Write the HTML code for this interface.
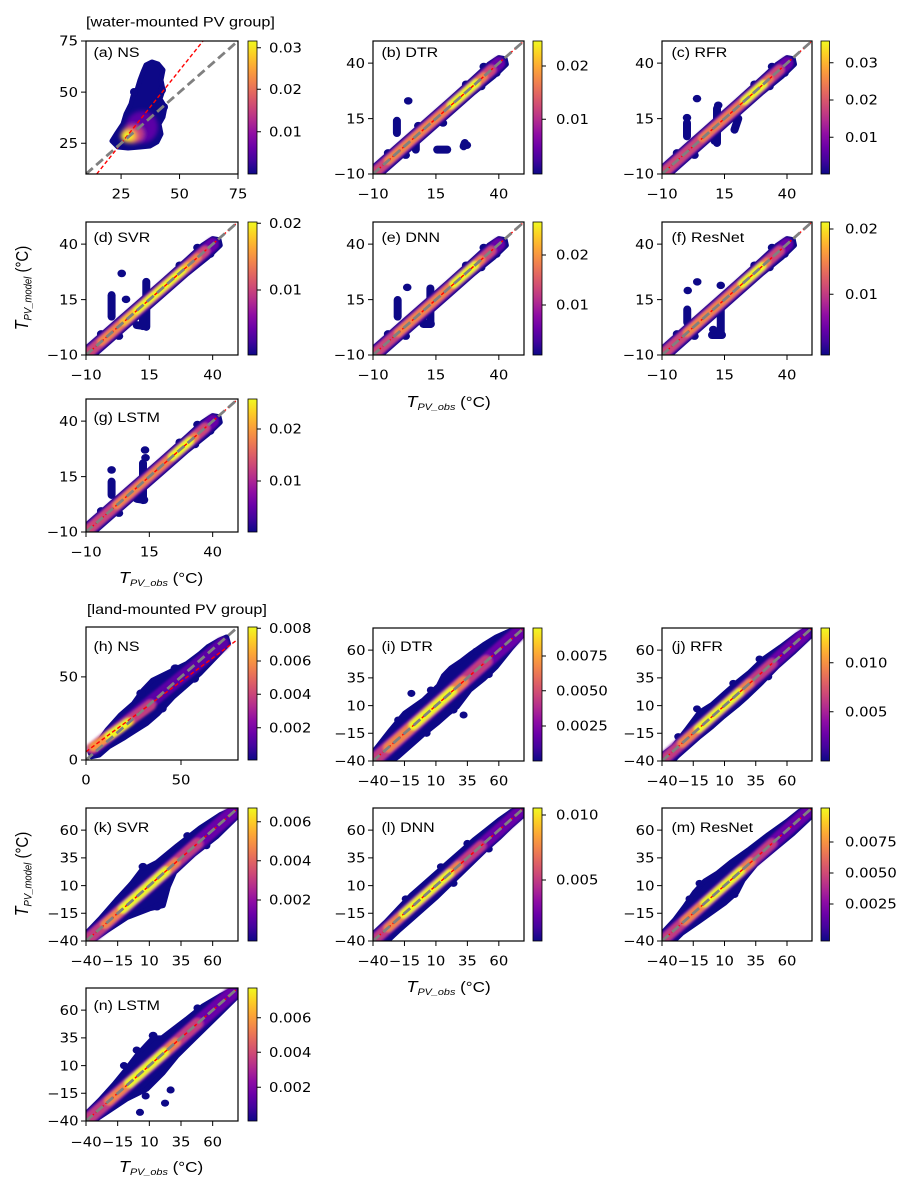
<!DOCTYPE html>
<html><head><meta charset="utf-8"><style>
html,body{margin:0;padding:0;background:#fff;}
svg{display:block}
.tk{font-family:"DejaVu Sans","Liberation Sans",sans-serif;font-size:13px;fill:#000}
.ar{font-family:"Liberation Sans",Arial,sans-serif;fill:#000}
.m{text-anchor:middle}.e{text-anchor:end}
.nv{fill:#0d0887;stroke:#0d0887;stroke-width:5px;stroke-linejoin:round;vector-effect:non-scaling-stroke}
.o{fill:none;stroke:#0d0887;stroke-width:8px;stroke-linecap:round;vector-effect:non-scaling-stroke}
.c{fill:#0d0887}
.L{fill:none;stroke-linecap:round;vector-effect:non-scaling-stroke}
.gd{stroke:#808080;stroke-width:2.8px;stroke-dasharray:9 4.5;vector-effect:non-scaling-stroke}
.rd{stroke:#f00;stroke-width:1.4px;stroke-dasharray:4 2.5;vector-effect:non-scaling-stroke}
.ax{fill:none;stroke:#000;stroke-width:1.2}
.tm{fill:none;stroke:#000;stroke-width:1}
.cb{stroke:#000;stroke-width:0.8}
</style></head><body>
<svg xmlns="http://www.w3.org/2000/svg" width="900" height="1187" viewBox="0 0 900 1187">
<defs>
<linearGradient id="pl" x1="0" y1="1" x2="0" y2="0">
<stop offset="0" stop-color="#0d0887"/><stop offset="0.1" stop-color="#41049d"/><stop offset="0.2" stop-color="#6a00a8"/><stop offset="0.3" stop-color="#8f0da4"/><stop offset="0.4" stop-color="#b12a90"/><stop offset="0.5" stop-color="#cc4778"/><stop offset="0.6" stop-color="#e16462"/><stop offset="0.7" stop-color="#f2844b"/><stop offset="0.8" stop-color="#fca636"/><stop offset="0.9" stop-color="#fcce25"/><stop offset="1" stop-color="#f0f921"/>
</linearGradient>
<filter id="bw" filterUnits="userSpaceOnUse" x="-70" y="-70" width="220" height="220"><feGaussianBlur stdDeviation="0.45"/></filter>
<filter id="bl" filterUnits="userSpaceOnUse" x="-100" y="-100" width="300" height="300"><feGaussianBlur stdDeviation="1.0"/></filter>
<filter id="bh" filterUnits="userSpaceOnUse" x="-50" y="-50" width="200" height="200"><feGaussianBlur stdDeviation="0.7"/></filter>
<filter id="bp" filterUnits="userSpaceOnUse" x="60" y="20" width="220" height="180"><feGaussianBlur stdDeviation="2"/></filter>
<clipPath id="ca"><rect x="86" y="41" width="152" height="133"/></clipPath>
<clipPath id="cb"><rect x="373" y="41" width="151" height="133"/></clipPath>
<clipPath id="cc"><rect x="662" y="41" width="150" height="133"/></clipPath>
<clipPath id="cd"><rect x="86" y="222" width="152" height="133"/></clipPath>
<clipPath id="ce"><rect x="373" y="222" width="151" height="133"/></clipPath>
<clipPath id="cf"><rect x="662" y="222" width="150" height="133"/></clipPath>
<clipPath id="cg"><rect x="86" y="399" width="152" height="133"/></clipPath>
<clipPath id="ch"><rect x="86" y="627" width="152" height="133"/></clipPath>
<clipPath id="ci"><rect x="373" y="628" width="151" height="133"/></clipPath>
<clipPath id="cj"><rect x="662" y="628" width="150" height="133"/></clipPath>
<clipPath id="ck"><rect x="86" y="808" width="152" height="133"/></clipPath>
<clipPath id="cl"><rect x="373" y="808" width="151" height="133"/></clipPath>
<clipPath id="cm"><rect x="662" y="808" width="150" height="133"/></clipPath>
<clipPath id="cn"><rect x="86" y="988" width="152" height="133"/></clipPath>
</defs>

<text class="ar" font-size="14.2" transform="translate(86,26.5) scale(1.14,1)">[water-mounted PV group]</text>
<text class="ar" font-size="14.2" transform="translate(87,614) scale(1.14,1)">[land-mounted PV group]</text>

<!-- ===== (a) NS ===== -->
<g clip-path="url(#ca)">
<path class="nv" d="M112,141 L117,133 L123,124 L126,114 L131,104 L133,96 L137,90 L140,80 L143,72 L146,65 L152,62 L158,64 L163,70 L161,80 L163,90 L160,99 L165,107 L163,117 L159,124 L161,134 L157,142 L150,146 L140,147 L128,148 L118,147 Z"/>
<circle class="c" cx="134" cy="92" r="4"/><circle class="c" cx="164" cy="107" r="4"/><circle class="c" cx="162" cy="90" r="4"/>
<g filter="url(#bp)">
<ellipse cx="142" cy="127" rx="16" ry="16" fill="#5c01a6"/>
<ellipse cx="133" cy="134" rx="11" ry="9.5" fill="#c33d80"/>
<ellipse cx="129" cy="136" rx="8.5" ry="7" fill="#f89540"/>
<ellipse cx="128" cy="136" rx="5.5" ry="4.5" fill="#f0f921"/>
</g>
<line class="rd" x1="96.7" y1="174" x2="203" y2="41"/>
<line class="gd" x1="86" y1="174" x2="238" y2="41"/>
</g>
<rect class="ax" x="86" y="41" width="152" height="133"/>
<path class="tm" d="M121.08,174v5M179.54,174v5M238,174v5M86,143.31h-5M86,92.15h-5M86,41h-5"/>
<text class="tk m" transform="translate(121.08,198.5) scale(1.14,1)">25</text>
<text class="tk m" transform="translate(179.54,198.5) scale(1.14,1)">50</text>
<text class="tk m" transform="translate(238,198.5) scale(1.14,1)">75</text>
<text class="tk e" transform="translate(78,148) scale(1.14,1)">25</text>
<text class="tk e" transform="translate(78,96.9) scale(1.14,1)">50</text>
<text class="tk e" transform="translate(78,45.7) scale(1.14,1)">75</text>
<text class="ar" font-size="14" transform="translate(93.5,57) scale(1.14,1)">(a) NS</text>
<rect class="cb" x="248" y="41" width="9" height="133" fill="url(#pl)"/>
<path class="tm" d="M257,47.7h4M257,89.3h4M257,131.7h4"/>
<text class="tk" transform="translate(269,52.4) scale(1.14,1)">0.03</text>
<text class="tk" transform="translate(269,94) scale(1.14,1)">0.02</text>
<text class="tk" transform="translate(269,136.4) scale(1.14,1)">0.01</text>

<!-- ===== (b) DTR ===== -->
<g clip-path="url(#cb)"><g transform="translate(373,174) scale(2.5167,-2.2167) translate(10,10)">
<polygon class="nv" points="-13,-10 0,3 10,13 20,23 30,33.2 36,39.5 40,42.5 42.5,42 43,39.5 38,34 30,26.7 20,16.7 10,6.7 0,-3.3 -13,-16.3"/>
<circle class="c" cx="-4" cy="-0.5" r="1.7"/><circle class="c" cx="8" cy="11.8" r="1.7"/><circle class="c" cx="27" cy="30.5" r="1.7"/><circle class="c" cx="34" cy="38.5" r="1.7"/><circle class="c" cx="3" cy="-1.5" r="1.7"/><circle class="c" cx="33" cy="29.5" r="1.7"/><circle class="c" cx="39" cy="35.5" r="1.7"/>
<circle class="c" cx="4" cy="23" r="1.7"/>
<line class="o" x1="-0.5" y1="8.5" x2="-0.5" y2="14"/>
<line class="o" x1="7" y1="1" x2="7" y2="8.5"/>
<circle class="c" cx="8.5" cy="7" r="1.7"/>
<line class="o" x1="15.5" y1="1" x2="19.5" y2="1"/>
<line class="o" x1="26" y1="2.5" x2="26.5" y2="4"/>
<circle class="c" cx="27.3" cy="3" r="1.7"/>
<circle class="c" cx="17.8" cy="13" r="1.7"/>
<g filter="url(#bw)">
<line class="L" x1="-11" y1="-11" x2="40" y2="40" stroke="#6a00a8" stroke-width="13"/>
<line class="L" x1="-9" y1="-9" x2="37" y2="37" stroke="#cc4778" stroke-width="10"/>
<line class="L" x1="-4" y1="-4" x2="34" y2="34" stroke="#f2844b" stroke-width="8"/>
<line class="L" x1="21" y1="21" x2="31" y2="31" stroke="#f0f921" stroke-width="8"/>
</g>
<line class="rd" x1="-10" y1="-10" x2="50" y2="50"/>
<line class="gd" x1="-10" y1="-10" x2="50" y2="50"/>
</g></g>
<rect class="ax" x="373" y="41" width="151" height="133"/>
<path class="tm" d="M373,174v5M435.92,174v5M498.83,174v5M373,174h-5M373,118.58h-5M373,63.17h-5"/>
<text class="tk m" transform="translate(373,198.5) scale(1.14,1)">−10</text>
<text class="tk m" transform="translate(435.92,198.5) scale(1.14,1)">15</text>
<text class="tk m" transform="translate(498.83,198.5) scale(1.14,1)">40</text>
<text class="tk e" transform="translate(365,178.7) scale(1.14,1)">−10</text>
<text class="tk e" transform="translate(365,123.3) scale(1.14,1)">15</text>
<text class="tk e" transform="translate(365,67.9) scale(1.14,1)">40</text>
<text class="ar" font-size="14" transform="translate(381.5,57) scale(1.14,1)">(b) DTR</text>
<rect class="cb" x="533" y="41" width="9" height="133" fill="url(#pl)"/>
<path class="tm" d="M542,66h4M542,119.3h4"/>
<text class="tk" transform="translate(556,70.7) scale(1.14,1)">0.02</text>
<text class="tk" transform="translate(556,124) scale(1.14,1)">0.01</text>

<!-- ===== (c) RFR ===== -->
<g clip-path="url(#cc)"><g transform="translate(662,174) scale(2.5,-2.2167) translate(10,10)">
<polygon class="nv" points="-13,-10 0,3 10,13 20,23 30,33.2 36,39.5 40,42.5 42.5,42 43,39.5 38,34 30,26.7 20,16.7 10,6.7 0,-3.3 -13,-16.3"/>
<circle class="c" cx="-4" cy="-0.5" r="1.7"/><circle class="c" cx="27" cy="30.5" r="1.7"/><circle class="c" cx="34" cy="38.5" r="1.7"/><circle class="c" cx="3" cy="-1.5" r="1.7"/><circle class="c" cx="33" cy="29.5" r="1.7"/><circle class="c" cx="39" cy="35.5" r="1.7"/>
<circle class="c" cx="4" cy="24" r="1.7"/>
<circle class="c" cx="0" cy="15.4" r="1.7"/>
<line class="o" x1="0" y1="7" x2="0" y2="13"/>
<circle class="c" cx="12.5" cy="21" r="1.7"/>
<line class="o" x1="12" y1="4" x2="12" y2="19.5"/>
<line class="o" x1="11" y1="5" x2="11" y2="9"/>
<line class="o" x1="19" y1="10" x2="20.5" y2="15"/>
<g filter="url(#bw)">
<line class="L" x1="-11" y1="-11" x2="40" y2="40" stroke="#6a00a8" stroke-width="13"/>
<line class="L" x1="-9" y1="-9" x2="37" y2="37" stroke="#cc4778" stroke-width="10"/>
<line class="L" x1="6" y1="6" x2="33" y2="33" stroke="#ef7b51" stroke-width="8"/>
<line class="L" x1="23" y1="23" x2="30.5" y2="30.5" stroke="#f0f921" stroke-width="8"/>
</g>
<line class="rd" x1="-10" y1="-10" x2="50" y2="50"/>
<line class="gd" x1="-10" y1="-10" x2="50" y2="50"/>
</g></g>
<rect class="ax" x="662" y="41" width="150" height="133"/>
<path class="tm" d="M662,174v5M724.5,174v5M787,174v5M662,174h-5M662,118.58h-5M662,63.17h-5"/>
<text class="tk m" transform="translate(662,198.5) scale(1.14,1)">−10</text>
<text class="tk m" transform="translate(724.5,198.5) scale(1.14,1)">15</text>
<text class="tk m" transform="translate(787,198.5) scale(1.14,1)">40</text>
<text class="tk e" transform="translate(654,178.7) scale(1.14,1)">−10</text>
<text class="tk e" transform="translate(654,123.3) scale(1.14,1)">15</text>
<text class="tk e" transform="translate(654,67.9) scale(1.14,1)">40</text>
<text class="ar" font-size="14" transform="translate(671.5,57) scale(1.14,1)">(c) RFR</text>
<rect class="cb" x="821" y="41" width="8.5" height="133" fill="url(#pl)"/>
<path class="tm" d="M829.5,62.7h4M829.5,100h4M829.5,137.3h4"/>
<text class="tk" transform="translate(845,67.4) scale(1.14,1)">0.03</text>
<text class="tk" transform="translate(845,104.7) scale(1.14,1)">0.02</text>
<text class="tk" transform="translate(845,142) scale(1.14,1)">0.01</text>

<!-- ===== (d) SVR ===== -->
<g clip-path="url(#cd)"><g transform="translate(86,355) scale(2.5333,-2.2167) translate(10,10)">
<polygon class="nv" points="-13,-10 0,3 10,13 20,23 30,33.2 36,39.5 40,42.5 42.5,42 43,39.5 38,34 30,26.7 20,16.7 10,6.7 0,-3.3 -13,-16.3"/>
<circle class="c" cx="-4" cy="-0.5" r="1.7"/><circle class="c" cx="27" cy="30.5" r="1.7"/><circle class="c" cx="34" cy="38.5" r="1.7"/><circle class="c" cx="3" cy="-1.5" r="1.7"/><circle class="c" cx="39" cy="35.5" r="1.7"/>
<circle class="c" cx="4.1" cy="26.8" r="1.7"/>
<line class="o" x1="0.1" y1="7.3" x2="0.1" y2="17"/>
<circle class="c" cx="5.8" cy="15.1" r="1.7"/>
<line class="o" x1="13.8" y1="2.7" x2="13.8" y2="23"/>
<line class="o" x1="10" y1="3.5" x2="13.5" y2="3"/>
<line class="o" x1="12.5" y1="3" x2="12.5" y2="9"/>
<g filter="url(#bw)">
<line class="L" x1="-11" y1="-11" x2="40" y2="40" stroke="#6a00a8" stroke-width="13"/>
<line class="L" x1="-9" y1="-9" x2="37" y2="37" stroke="#cc4778" stroke-width="10"/>
<line class="L" x1="-4" y1="-4" x2="34" y2="34" stroke="#f2844b" stroke-width="8"/>
<line class="L" x1="5" y1="5" x2="30" y2="30" stroke="#fbbf2f" stroke-width="8"/>
<line class="L" x1="10" y1="10" x2="28" y2="28" stroke="#f0f921" stroke-width="7"/>
</g>
<line class="rd" x1="-10" y1="-10" x2="50" y2="50"/>
<line class="gd" x1="-10" y1="-10" x2="50" y2="50"/>
</g></g>
<rect class="ax" x="86" y="222" width="152" height="133"/>
<path class="tm" d="M86,355v5M149.33,355v5M212.67,355v5M86,355h-5M86,299.58h-5M86,244.17h-5"/>
<text class="tk m" transform="translate(86,379.5) scale(1.14,1)">−10</text>
<text class="tk m" transform="translate(149.33,379.5) scale(1.14,1)">15</text>
<text class="tk m" transform="translate(212.67,379.5) scale(1.14,1)">40</text>
<text class="tk e" transform="translate(78,359.7) scale(1.14,1)">−10</text>
<text class="tk e" transform="translate(78,304.3) scale(1.14,1)">15</text>
<text class="tk e" transform="translate(78,248.9) scale(1.14,1)">40</text>
<text class="ar" font-size="14" transform="translate(93.5,242) scale(1.14,1)">(d) SVR</text>
<rect class="cb" x="248" y="222" width="9" height="133" fill="url(#pl)"/>
<path class="tm" d="M257,223.3h4M257,290h4"/>
<text class="tk" transform="translate(269,228) scale(1.14,1)">0.02</text>
<text class="tk" transform="translate(269,294.7) scale(1.14,1)">0.01</text>

<!-- ===== (e) DNN ===== -->
<g clip-path="url(#ce)"><g transform="translate(373,355) scale(2.5167,-2.2167) translate(10,10)">
<polygon class="nv" points="-13,-10 0,3 10,13 20,23 30,33.2 36,39.5 40,42.5 42.5,42 43,39.5 38,34 30,26.7 20,16.7 10,6.7 0,-3.3 -13,-16.3"/>
<circle class="c" cx="-4" cy="-0.5" r="1.7"/><circle class="c" cx="27" cy="30.5" r="1.7"/><circle class="c" cx="34" cy="38.5" r="1.7"/><circle class="c" cx="3" cy="-1.5" r="1.7"/><circle class="c" cx="33" cy="29.5" r="1.7"/><circle class="c" cx="39" cy="35.5" r="1.7"/>
<circle class="c" cx="3.6" cy="20.5" r="1.7"/>
<line class="o" x1="-0.2" y1="7.3" x2="-0.2" y2="14.8"/>
<line class="o" x1="12.8" y1="4" x2="12.8" y2="20"/>
<line class="o" x1="10" y1="4" x2="13" y2="4"/>
<circle class="c" cx="9.5" cy="6" r="1.7"/>
<g filter="url(#bw)">
<line class="L" x1="-11" y1="-11" x2="40" y2="40" stroke="#6a00a8" stroke-width="13"/>
<line class="L" x1="-9" y1="-9" x2="37" y2="37" stroke="#cc4778" stroke-width="10"/>
<line class="L" x1="0" y1="0" x2="33" y2="33" stroke="#f2844b" stroke-width="8"/>
<line class="L" x1="22" y1="22" x2="30.5" y2="30.5" stroke="#f0f921" stroke-width="8"/>
</g>
<line class="rd" x1="-10" y1="-10" x2="50" y2="50"/>
<line class="gd" x1="-10" y1="-10" x2="50" y2="50"/>
</g></g>
<rect class="ax" x="373" y="222" width="151" height="133"/>
<path class="tm" d="M373,355v5M435.92,355v5M498.83,355v5M373,355h-5M373,299.58h-5M373,244.17h-5"/>
<text class="tk m" transform="translate(373,379.5) scale(1.14,1)">−10</text>
<text class="tk m" transform="translate(435.92,379.5) scale(1.14,1)">15</text>
<text class="tk m" transform="translate(498.83,379.5) scale(1.14,1)">40</text>
<text class="tk e" transform="translate(365,359.7) scale(1.14,1)">−10</text>
<text class="tk e" transform="translate(365,304.3) scale(1.14,1)">15</text>
<text class="tk e" transform="translate(365,248.9) scale(1.14,1)">40</text>
<text class="ar" font-size="14" transform="translate(381.5,242) scale(1.14,1)">(e) DNN</text>
<rect class="cb" x="533" y="222" width="9" height="133" fill="url(#pl)"/>
<path class="tm" d="M542,255h4M542,305h4"/>
<text class="tk" transform="translate(556,259.7) scale(1.14,1)">0.02</text>
<text class="tk" transform="translate(556,309.7) scale(1.14,1)">0.01</text>

<!-- ===== (f) ResNet ===== -->
<g clip-path="url(#cf)"><g transform="translate(662,355) scale(2.5,-2.2167) translate(10,10)">
<polygon class="nv" points="-13,-10 0,3 10,13 20,23 30,33.2 36,39.5 40,42.5 42.5,42 43,39.5 38,34 30,26.7 20,16.7 10,6.7 0,-3.3 -13,-16.3"/>
<circle class="c" cx="-4" cy="-0.5" r="1.7"/><circle class="c" cx="27" cy="30.5" r="1.7"/><circle class="c" cx="34" cy="38.5" r="1.7"/><circle class="c" cx="3" cy="-1.5" r="1.7"/><circle class="c" cx="33" cy="29.5" r="1.7"/><circle class="c" cx="39" cy="35.5" r="1.7"/>
<circle class="c" cx="0.3" cy="19.1" r="1.7"/>
<circle class="c" cx="4.1" cy="23" r="1.7"/>
<line class="o" x1="0.1" y1="4.7" x2="0.1" y2="10.5"/>
<line class="o" x1="10" y1="-1" x2="14" y2="-1"/>
<line class="o" x1="13.5" y1="-1" x2="13.5" y2="11"/>
<circle class="c" cx="10.5" cy="1.5" r="1.7"/>
<circle class="c" cx="13.5" cy="21.4" r="1.7"/>
<g filter="url(#bw)">
<line class="L" x1="-11" y1="-11" x2="40" y2="40" stroke="#6a00a8" stroke-width="13"/>
<line class="L" x1="-9" y1="-9" x2="37" y2="37" stroke="#cc4778" stroke-width="10"/>
<line class="L" x1="0" y1="0" x2="32" y2="32" stroke="#f2844b" stroke-width="8"/>
<line class="L" x1="22" y1="22" x2="30" y2="30" stroke="#f0f921" stroke-width="8"/>
</g>
<line class="rd" x1="-10" y1="-10" x2="50" y2="50"/>
<line class="gd" x1="-10" y1="-10" x2="50" y2="50"/>
</g></g>
<rect class="ax" x="662" y="222" width="150" height="133"/>
<path class="tm" d="M662,355v5M724.5,355v5M787,355v5M662,355h-5M662,299.58h-5M662,244.17h-5"/>
<text class="tk m" transform="translate(662,379.5) scale(1.14,1)">−10</text>
<text class="tk m" transform="translate(724.5,379.5) scale(1.14,1)">15</text>
<text class="tk m" transform="translate(787,379.5) scale(1.14,1)">40</text>
<text class="tk e" transform="translate(654,359.7) scale(1.14,1)">−10</text>
<text class="tk e" transform="translate(654,304.3) scale(1.14,1)">15</text>
<text class="tk e" transform="translate(654,248.9) scale(1.14,1)">40</text>
<text class="ar" font-size="14" transform="translate(671.5,242) scale(1.14,1)">(f) ResNet</text>
<rect class="cb" x="821" y="222" width="8.5" height="133" fill="url(#pl)"/>
<path class="tm" d="M829.5,229h4M829.5,294.3h4"/>
<text class="tk" transform="translate(845,233.7) scale(1.14,1)">0.02</text>
<text class="tk" transform="translate(845,299) scale(1.14,1)">0.01</text>

<!-- ===== (g) LSTM ===== -->
<g clip-path="url(#cg)"><g transform="translate(86,532) scale(2.5333,-2.2167) translate(10,10)">
<polygon class="nv" points="-13,-10 0,3 10,13 20,23 30,33.2 36,39.5 40,42.5 42.5,42 43,39.5 38,34 30,26.7 20,16.7 10,6.7 0,-3.3 -13,-16.3"/>
<circle class="c" cx="-4" cy="-0.5" r="1.7"/><circle class="c" cx="27" cy="30.5" r="1.7"/><circle class="c" cx="34" cy="38.5" r="1.7"/><circle class="c" cx="3" cy="-1.5" r="1.7"/><circle class="c" cx="33" cy="29.5" r="1.7"/><circle class="c" cx="39" cy="35.5" r="1.7"/>
<circle class="c" cx="0.1" cy="18" r="1.7"/>
<line class="o" x1="0.1" y1="6.7" x2="0.1" y2="12.7"/>
<circle class="c" cx="13.3" cy="27" r="1.7"/>
<line class="o" x1="12.5" y1="4.4" x2="12.5" y2="21"/>
<line class="o" x1="10" y1="5" x2="13" y2="4.5"/>
<circle class="c" cx="13.5" cy="23.5" r="1.7"/>
<g filter="url(#bw)">
<line class="L" x1="-11" y1="-11" x2="40" y2="40" stroke="#6a00a8" stroke-width="13"/>
<line class="L" x1="-9" y1="-9" x2="37" y2="37" stroke="#cc4778" stroke-width="10"/>
<line class="L" x1="2" y1="2" x2="33" y2="33" stroke="#f2844b" stroke-width="8"/>
<line class="L" x1="24" y1="24" x2="31" y2="31" stroke="#f0f921" stroke-width="8"/>
</g>
<line class="rd" x1="-10" y1="-10" x2="50" y2="50"/>
<line class="gd" x1="-10" y1="-10" x2="50" y2="50"/>
</g></g>
<rect class="ax" x="86" y="399" width="152" height="133"/>
<path class="tm" d="M86,532v5M149.33,532v5M212.67,532v5M86,532h-5M86,476.58h-5M86,421.17h-5"/>
<text class="tk m" transform="translate(86,556.5) scale(1.14,1)">−10</text>
<text class="tk m" transform="translate(149.33,556.5) scale(1.14,1)">15</text>
<text class="tk m" transform="translate(212.67,556.5) scale(1.14,1)">40</text>
<text class="tk e" transform="translate(78,536.7) scale(1.14,1)">−10</text>
<text class="tk e" transform="translate(78,481.3) scale(1.14,1)">15</text>
<text class="tk e" transform="translate(78,425.9) scale(1.14,1)">40</text>
<text class="ar" font-size="14" transform="translate(93.5,422) scale(1.14,1)">(g) LSTM</text>
<rect class="cb" x="248" y="399" width="9" height="133" fill="url(#pl)"/>
<path class="tm" d="M257,429h4M257,481h4"/>
<text class="tk" transform="translate(269,433.7) scale(1.14,1)">0.02</text>
<text class="tk" transform="translate(269,485.7) scale(1.14,1)">0.01</text>

<!-- axis labels water -->
<text class="ar m" transform="translate(28,288) scale(1.14,1) rotate(-90)"><tspan font-style="italic" font-size="16">T</tspan><tspan font-style="italic" font-size="9.5" dy="3">PV_model</tspan><tspan font-size="15" dy="-3"> (°C)</tspan></text>
<text class="ar m" transform="translate(448.5,407) scale(1.14,1)"><tspan font-style="italic" font-size="16">T</tspan><tspan font-style="italic" font-size="9.5" dy="3">PV_obs</tspan><tspan font-size="15" dy="-3"> (°C)</tspan></text>
<text class="ar m" transform="translate(161,583) scale(1.14,1)"><tspan font-style="italic" font-size="16">T</tspan><tspan font-style="italic" font-size="9.5" dy="3">PV_obs</tspan><tspan font-size="15" dy="-3"> (°C)</tspan></text>

<!-- ===== (h) NS land ===== -->
<g clip-path="url(#ch)"><g transform="translate(86,760) scale(1.9,-1.6625)">
<polygon class="nv" points="2,5 6,10 11,18 18,27 25,34 30,42 35,48 44,53 53,58 60,64 64,68 70,72 74,74 75,70 70,64 60,52 53,45 46,38 38,28 32,22 25,17 19.6,13 12,8 7,3 3,2"/>
<circle class="c" cx="29" cy="40" r="2.5"/><circle class="c" cx="47" cy="55" r="2.5"/><circle class="c" cx="40" cy="31" r="2.5"/><circle class="c" cx="57" cy="49" r="2.5"/>
<g filter="url(#bh)">
<line class="L" x1="4" y1="7" x2="72" y2="70" stroke="#5c01a6" stroke-width="13"/>
<line class="L" x1="3" y1="7" x2="34" y2="33" stroke="#c33d80" stroke-width="11"/>
<line class="L" x1="4" y1="8" x2="23" y2="23" stroke="#f89540" stroke-width="9"/>
<line class="L" x1="12" y1="14.5" x2="22" y2="22.5" stroke="#f0f921" stroke-width="8"/>
</g>
<line class="rd" x1="0" y1="5" x2="80" y2="72.6"/>
<line class="gd" x1="0" y1="0" x2="80" y2="80"/>
</g></g>
<rect class="ax" x="86" y="627" width="152" height="133"/>
<path class="tm" d="M86,760v5M181,760v5M86,760h-5M86,676.9h-5"/>
<text class="tk m" transform="translate(86,784.5) scale(1.14,1)">0</text>
<text class="tk m" transform="translate(181,784.5) scale(1.14,1)">50</text>
<text class="tk e" transform="translate(78,764.7) scale(1.14,1)">0</text>
<text class="tk e" transform="translate(78,681.6) scale(1.14,1)">50</text>
<text class="ar" font-size="14" transform="translate(93.5,651) scale(1.14,1)">(h) NS</text>
<rect class="cb" x="248" y="627" width="9" height="133" fill="url(#pl)"/>
<path class="tm" d="M257,628.3h4M257,661h4M257,694.3h4M257,727.7h4"/>
<text class="tk" transform="translate(269,633) scale(1.14,1)">0.008</text>
<text class="tk" transform="translate(269,665.7) scale(1.14,1)">0.006</text>
<text class="tk" transform="translate(269,699) scale(1.14,1)">0.004</text>
<text class="tk" transform="translate(269,732.4) scale(1.14,1)">0.002</text>

<!-- ===== (i) DTR land ===== -->
<g clip-path="url(#ci)"><g transform="translate(373,761) scale(1.2583,-1.1083) translate(40,40)">
<polygon class="nv" points="-44,-38 -26,-12 -15,3 0,15 12,28 16,37 22,44 30,50 38,57 48,65 58,72 68,77 77,80 80,75 70,62 58,45 48,34 37,24 27,9 20,3 11,-6 0,-16 -5,-21 -20,-36 -32,-46"/>
<circle class="c" cx="-9.5" cy="21" r="3.2"/>
<circle class="c" cx="2.6" cy="-15" r="3.2"/>
<circle class="c" cx="32" cy="1.5" r="3.2"/>
<circle class="c" cx="-20" cy="-3" r="3.2"/><circle class="c" cx="6" cy="24" r="3.2"/><circle class="c" cx="42" cy="59" r="3.2"/><circle class="c" cx="52" cy="38" r="3.2"/><circle class="c" cx="24" cy="6" r="3.2"/>
<g filter="url(#bl)">
<line class="L" x1="-42" y1="-42" x2="76" y2="76" stroke="#6a00a8" stroke-width="15"/>
<line class="L" x1="-38" y1="-38" x2="50" y2="50" stroke="#c33d80" stroke-width="12"/>
<line class="L" x1="-28" y1="-28" x2="32" y2="32" stroke="#f2844b" stroke-width="10"/>
<line class="L" x1="-8" y1="-8" x2="23" y2="23" stroke="#f0f921" stroke-width="9"/>
</g>
<line class="rd" x1="-40" y1="-40" x2="80" y2="80"/>
<line class="gd" x1="-40" y1="-40" x2="80" y2="80"/>
</g></g>
<rect class="ax" x="373" y="628" width="151" height="133"/>
<path class="tm" d="M373,761v5M404.46,761v5M435.92,761v5M467.38,761v5M498.83,761v5M373,761h-5M373,733.29h-5M373,705.58h-5M373,677.87h-5M373,650.17h-5"/>
<text class="tk m" transform="translate(373,785.5) scale(1.14,1)">−40</text>
<text class="tk m" transform="translate(404.46,785.5) scale(1.14,1)">−15</text>
<text class="tk m" transform="translate(435.92,785.5) scale(1.14,1)">10</text>
<text class="tk m" transform="translate(467.38,785.5) scale(1.14,1)">35</text>
<text class="tk m" transform="translate(498.83,785.5) scale(1.14,1)">60</text>
<text class="tk e" transform="translate(365.5,765.7) scale(1.14,1)">−40</text>
<text class="tk e" transform="translate(365.5,738) scale(1.14,1)">−15</text>
<text class="tk e" transform="translate(365.5,710.3) scale(1.14,1)">10</text>
<text class="tk e" transform="translate(365.5,682.6) scale(1.14,1)">35</text>
<text class="tk e" transform="translate(365.5,654.9) scale(1.14,1)">60</text>
<text class="ar" font-size="14" transform="translate(381.5,651) scale(1.14,1)">(i) DTR</text>
<rect class="cb" x="533" y="628" width="9" height="133" fill="url(#pl)"/>
<path class="tm" d="M542,656h4M542,690.7h4M542,726h4"/>
<text class="tk" transform="translate(556,660.7) scale(1.14,1)">0.0075</text>
<text class="tk" transform="translate(556,695.4) scale(1.14,1)">0.0050</text>
<text class="tk" transform="translate(556,730.7) scale(1.14,1)">0.0025</text>

<!-- ===== (j) RFR land ===== -->
<g clip-path="url(#cj)"><g transform="translate(662,761) scale(1.25,-1.1083) translate(40,40)">
<polygon class="nv" points="-44,-38 -31,-27 -20,-11 -10,4 0,11 10,21 20,31 30,40 41,52 55,63 68,74 77,80 80,74 65,58 52,45 40,31 28,18 20,10 9,0 0,-9 -10,-18 -28,-36 -36,-46"/>
<circle class="c" cx="-12" cy="7" r="3.2"/><circle class="c" cx="17" cy="30" r="3.2"/><circle class="c" cx="38" cy="52" r="3.2"/><circle class="c" cx="45" cy="36" r="3.2"/><circle class="c" cx="-27" cy="-18" r="3.2"/>
<g filter="url(#bl)">
<line class="L" x1="-42" y1="-42" x2="74" y2="74" stroke="#6a00a8" stroke-width="13"/>
<line class="L" x1="-36" y1="-36" x2="48" y2="48" stroke="#c33d80" stroke-width="10"/>
<line class="L" x1="-24" y1="-24" x2="30" y2="30" stroke="#f2844b" stroke-width="9"/>
<line class="L" x1="-11" y1="-11" x2="22" y2="22" stroke="#f0f921" stroke-width="8"/>
</g>
<line class="rd" x1="-40" y1="-40" x2="80" y2="80"/>
<line class="gd" x1="-40" y1="-40" x2="80" y2="80"/>
</g></g>
<rect class="ax" x="662" y="628" width="150" height="133"/>
<path class="tm" d="M662,761v5M693.25,761v5M724.5,761v5M755.75,761v5M787,761v5M662,761h-5M662,733.29h-5M662,705.58h-5M662,677.87h-5M662,650.17h-5"/>
<text class="tk m" transform="translate(662,785.5) scale(1.14,1)">−40</text>
<text class="tk m" transform="translate(693.25,785.5) scale(1.14,1)">−15</text>
<text class="tk m" transform="translate(724.5,785.5) scale(1.14,1)">10</text>
<text class="tk m" transform="translate(755.75,785.5) scale(1.14,1)">35</text>
<text class="tk m" transform="translate(787,785.5) scale(1.14,1)">60</text>
<text class="tk e" transform="translate(654.5,765.7) scale(1.14,1)">−40</text>
<text class="tk e" transform="translate(654.5,738) scale(1.14,1)">−15</text>
<text class="tk e" transform="translate(654.5,710.3) scale(1.14,1)">10</text>
<text class="tk e" transform="translate(654.5,682.6) scale(1.14,1)">35</text>
<text class="tk e" transform="translate(654.5,654.9) scale(1.14,1)">60</text>
<text class="ar" font-size="14" transform="translate(671.5,651) scale(1.14,1)">(j) RFR</text>
<rect class="cb" x="821" y="628" width="8.5" height="133" fill="url(#pl)"/>
<path class="tm" d="M829.5,662.7h4M829.5,711.7h4"/>
<text class="tk" transform="translate(845,667.4) scale(1.14,1)">0.010</text>
<text class="tk" transform="translate(845,716.4) scale(1.14,1)">0.005</text>

<!-- ===== (k) SVR land ===== -->
<g clip-path="url(#ck)"><g transform="translate(86,941) scale(1.2667,-1.1083) translate(40,40)">
<polygon class="nv" points="-44,-38 -29,-20 -16,-3 -4,12 4,24 16,31 32,46 50,62 66,74 78,80 80,73 63,54 45,38 30,22 25,9 21,-8 10,-11 -8,-19 -24,-31 -34,-39 -40,-46"/>
<circle class="c" cx="5" cy="27" r="3.5"/><circle class="c" cx="16" cy="-9" r="3.5"/><circle class="c" cx="40" cy="55" r="3.2"/><circle class="c" cx="55" cy="46" r="3.2"/>
<g filter="url(#bl)">
<line class="L" x1="-42" y1="-42" x2="75" y2="75" stroke="#6a00a8" stroke-width="14"/>
<line class="L" x1="-36" y1="-36" x2="48" y2="48" stroke="#c33d80" stroke-width="11"/>
<line class="L" x1="-25" y1="-25" x2="31" y2="31" stroke="#f2844b" stroke-width="9"/>
<line class="L" x1="-11" y1="-11" x2="23" y2="23" stroke="#f0f921" stroke-width="9"/>
</g>
<line class="rd" x1="-40" y1="-40" x2="80" y2="80"/>
<line class="gd" x1="-40" y1="-40" x2="80" y2="80"/>
</g></g>
<rect class="ax" x="86" y="808" width="152" height="133"/>
<path class="tm" d="M86,941v5M117.67,941v5M149.33,941v5M181,941v5M212.67,941v5M86,941h-5M86,913.29h-5M86,885.58h-5M86,857.87h-5M86,830.17h-5"/>
<text class="tk m" transform="translate(86,965.5) scale(1.14,1)">−40</text>
<text class="tk m" transform="translate(117.67,965.5) scale(1.14,1)">−15</text>
<text class="tk m" transform="translate(149.33,965.5) scale(1.14,1)">10</text>
<text class="tk m" transform="translate(181,965.5) scale(1.14,1)">35</text>
<text class="tk m" transform="translate(212.67,965.5) scale(1.14,1)">60</text>
<text class="tk e" transform="translate(78.5,945.7) scale(1.14,1)">−40</text>
<text class="tk e" transform="translate(78.5,918) scale(1.14,1)">−15</text>
<text class="tk e" transform="translate(78.5,890.3) scale(1.14,1)">10</text>
<text class="tk e" transform="translate(78.5,862.6) scale(1.14,1)">35</text>
<text class="tk e" transform="translate(78.5,834.9) scale(1.14,1)">60</text>
<text class="ar" font-size="14" transform="translate(93.5,832) scale(1.14,1)">(k) SVR</text>
<rect class="cb" x="248" y="808" width="9" height="133" fill="url(#pl)"/>
<path class="tm" d="M257,821.7h4M257,860.7h4M257,900h4"/>
<text class="tk" transform="translate(269,826.4) scale(1.14,1)">0.006</text>
<text class="tk" transform="translate(269,865.4) scale(1.14,1)">0.004</text>
<text class="tk" transform="translate(269,904.7) scale(1.14,1)">0.002</text>

<!-- ===== (l) DNN land ===== -->
<g clip-path="url(#cl)"><g transform="translate(373,941) scale(1.2583,-1.1083) translate(40,40)">
<polygon class="nv" points="-44,-38 -30,-23 -20,-11 -10,1 0,11 10,21 20,31 30,41 40,51 50,60 60,69 70,77 78,80 80,74 70,64 60,53 50,43 40,32 30,21 20,10 10,-1 0,-11 -10,-21 -20,-31 -34,-46"/>
<circle class="c" cx="-14" cy="-2" r="3.2"/><circle class="c" cx="14" cy="27" r="3.2"/><circle class="c" cx="35" cy="48" r="3.2"/><circle class="c" cx="24" cy="12" r="3.2"/><circle class="c" cx="52" cy="43" r="3.2"/>
<g filter="url(#bl)">
<line class="L" x1="-42" y1="-42" x2="75" y2="75" stroke="#6a00a8" stroke-width="13"/>
<line class="L" x1="-36" y1="-36" x2="46" y2="46" stroke="#c33d80" stroke-width="10"/>
<line class="L" x1="-28" y1="-28" x2="28" y2="28" stroke="#f2844b" stroke-width="9"/>
<line class="L" x1="-16" y1="-16" x2="21" y2="21" stroke="#f0f921" stroke-width="8"/>
</g>
<line class="rd" x1="-40" y1="-40" x2="80" y2="80"/>
<line class="gd" x1="-40" y1="-40" x2="80" y2="80"/>
</g></g>
<rect class="ax" x="373" y="808" width="151" height="133"/>
<path class="tm" d="M373,941v5M404.46,941v5M435.92,941v5M467.38,941v5M498.83,941v5M373,941h-5M373,913.29h-5M373,885.58h-5M373,857.87h-5M373,830.17h-5"/>
<text class="tk m" transform="translate(373,965.5) scale(1.14,1)">−40</text>
<text class="tk m" transform="translate(404.46,965.5) scale(1.14,1)">−15</text>
<text class="tk m" transform="translate(435.92,965.5) scale(1.14,1)">10</text>
<text class="tk m" transform="translate(467.38,965.5) scale(1.14,1)">35</text>
<text class="tk m" transform="translate(498.83,965.5) scale(1.14,1)">60</text>
<text class="tk e" transform="translate(365.5,945.7) scale(1.14,1)">−40</text>
<text class="tk e" transform="translate(365.5,918) scale(1.14,1)">−15</text>
<text class="tk e" transform="translate(365.5,890.3) scale(1.14,1)">10</text>
<text class="tk e" transform="translate(365.5,862.6) scale(1.14,1)">35</text>
<text class="tk e" transform="translate(365.5,834.9) scale(1.14,1)">60</text>
<text class="ar" font-size="14" transform="translate(381.5,832) scale(1.14,1)">(l) DNN</text>
<rect class="cb" x="533" y="808" width="9" height="133" fill="url(#pl)"/>
<path class="tm" d="M542,815h4M542,880h4"/>
<text class="tk" transform="translate(556,819.7) scale(1.14,1)">0.010</text>
<text class="tk" transform="translate(556,884.7) scale(1.14,1)">0.005</text>

<!-- ===== (m) ResNet land ===== -->
<g clip-path="url(#cm)"><g transform="translate(662,941) scale(1.25,-1.1083) translate(40,40)">
<polygon class="nv" points="-44,-38 -30,-21 -22,-9 -14,4 -6,14 4,21 15,31 30,43 45,56 60,68 70,77 78,80 80,73 65,57 50,43 35,29 25,15 20,4 10,-6 0,-14 -10,-22 -24,-33 -36,-46"/>
<circle class="c" cx="-18" cy="-2" r="3.2"/>
<circle class="c" cx="-5" cy="-12" r="3.2"/>
<circle class="c" cx="-10" cy="12" r="3.2"/><circle class="c" cx="18" cy="2" r="3.2"/>
<g filter="url(#bl)">
<line class="L" x1="-42" y1="-42" x2="75" y2="75" stroke="#6a00a8" stroke-width="13"/>
<line class="L" x1="-36" y1="-36" x2="48" y2="48" stroke="#c33d80" stroke-width="10"/>
<line class="L" x1="-22" y1="-22" x2="31" y2="31" stroke="#f2844b" stroke-width="9"/>
<line class="L" x1="-6" y1="-6" x2="23" y2="23" stroke="#f0f921" stroke-width="8"/>
</g>
<line class="rd" x1="-40" y1="-40" x2="80" y2="80"/>
<line class="gd" x1="-40" y1="-40" x2="80" y2="80"/>
</g></g>
<rect class="ax" x="662" y="808" width="150" height="133"/>
<path class="tm" d="M662,941v5M693.25,941v5M724.5,941v5M755.75,941v5M787,941v5M662,941h-5M662,913.29h-5M662,885.58h-5M662,857.87h-5M662,830.17h-5"/>
<text class="tk m" transform="translate(662,965.5) scale(1.14,1)">−40</text>
<text class="tk m" transform="translate(693.25,965.5) scale(1.14,1)">−15</text>
<text class="tk m" transform="translate(724.5,965.5) scale(1.14,1)">10</text>
<text class="tk m" transform="translate(755.75,965.5) scale(1.14,1)">35</text>
<text class="tk m" transform="translate(787,965.5) scale(1.14,1)">60</text>
<text class="tk e" transform="translate(654.5,945.7) scale(1.14,1)">−40</text>
<text class="tk e" transform="translate(654.5,918) scale(1.14,1)">−15</text>
<text class="tk e" transform="translate(654.5,890.3) scale(1.14,1)">10</text>
<text class="tk e" transform="translate(654.5,862.6) scale(1.14,1)">35</text>
<text class="tk e" transform="translate(654.5,834.9) scale(1.14,1)">60</text>
<text class="ar" font-size="14" transform="translate(671.5,832) scale(1.14,1)">(m) ResNet</text>
<rect class="cb" x="821" y="808" width="8.5" height="133" fill="url(#pl)"/>
<path class="tm" d="M829.5,842h4M829.5,873h4M829.5,904h4"/>
<text class="tk" transform="translate(845,846.7) scale(1.14,1)">0.0075</text>
<text class="tk" transform="translate(845,877.7) scale(1.14,1)">0.0050</text>
<text class="tk" transform="translate(845,908.7) scale(1.14,1)">0.0025</text>

<!-- ===== (n) LSTM land ===== -->
<g clip-path="url(#cn)"><g transform="translate(86,1121) scale(1.2667,-1.1083) translate(40,40)">
<polygon class="nv" points="-44,-38 -29,-21 -18,-7 -8,7 0,19 8,29 13,35 20,35 28,42 39.5,52 52.6,64 66,73 78,80 80,73 60.5,51 44.7,33.4 31.6,18.5 21,3.6 8,-11.3 -8,-20.3 -23.7,-32.2 -34,-40 -40,-46"/>
<circle class="c" cx="13" cy="37" r="3.5"/><circle class="c" cx="0" cy="24" r="3.2"/><circle class="c" cx="-10" cy="10" r="3.2"/><circle class="c" cx="48" cy="62" r="3.2"/>
<circle class="c" cx="7.1" cy="-17.4" r="3.2"/>
<circle class="c" cx="2.6" cy="-32.2" r="3.2"/>
<circle class="c" cx="22.4" cy="-23.9" r="3.2"/>
<circle class="c" cx="26.8" cy="-12" r="3.2"/>
<g filter="url(#bl)">
<line class="L" x1="-42" y1="-42" x2="75" y2="75" stroke="#6a00a8" stroke-width="14"/>
<line class="L" x1="-36" y1="-36" x2="48" y2="48" stroke="#c33d80" stroke-width="11"/>
<line class="L" x1="-22" y1="-22" x2="31" y2="31" stroke="#f2844b" stroke-width="9"/>
<line class="L" x1="-6" y1="-6" x2="22" y2="22" stroke="#f0f921" stroke-width="9"/>
</g>
<line class="rd" x1="-40" y1="-40" x2="80" y2="80"/>
<line class="gd" x1="-40" y1="-40" x2="80" y2="80"/>
</g></g>
<rect class="ax" x="86" y="988" width="152" height="133"/>
<path class="tm" d="M86,1121v5M117.67,1121v5M149.33,1121v5M181,1121v5M212.67,1121v5M86,1121h-5M86,1093.29h-5M86,1065.58h-5M86,1037.87h-5M86,1010.17h-5"/>
<text class="tk m" transform="translate(86,1146.5) scale(1.14,1)">−40</text>
<text class="tk m" transform="translate(117.67,1146.5) scale(1.14,1)">−15</text>
<text class="tk m" transform="translate(149.33,1146.5) scale(1.14,1)">10</text>
<text class="tk m" transform="translate(181,1146.5) scale(1.14,1)">35</text>
<text class="tk m" transform="translate(212.67,1146.5) scale(1.14,1)">60</text>
<text class="tk e" transform="translate(78.5,1125.7) scale(1.14,1)">−40</text>
<text class="tk e" transform="translate(78.5,1098) scale(1.14,1)">−15</text>
<text class="tk e" transform="translate(78.5,1070.3) scale(1.14,1)">10</text>
<text class="tk e" transform="translate(78.5,1042.6) scale(1.14,1)">35</text>
<text class="tk e" transform="translate(78.5,1014.9) scale(1.14,1)">60</text>
<text class="ar" font-size="14" transform="translate(93.5,1010) scale(1.14,1)">(n) LSTM</text>
<rect class="cb" x="248" y="988" width="9" height="133" fill="url(#pl)"/>
<path class="tm" d="M257,1017.7h4M257,1052.3h4M257,1087.3h4"/>
<text class="tk" transform="translate(269,1022.4) scale(1.14,1)">0.006</text>
<text class="tk" transform="translate(269,1057) scale(1.14,1)">0.004</text>
<text class="tk" transform="translate(269,1092) scale(1.14,1)">0.002</text>

<!-- axis labels land -->
<text class="ar m" transform="translate(28,874) scale(1.14,1) rotate(-90)"><tspan font-style="italic" font-size="16">T</tspan><tspan font-style="italic" font-size="9.5" dy="3">PV_model</tspan><tspan font-size="15" dy="-3"> (°C)</tspan></text>
<text class="ar m" transform="translate(448.5,992) scale(1.14,1)"><tspan font-style="italic" font-size="16">T</tspan><tspan font-style="italic" font-size="9.5" dy="3">PV_obs</tspan><tspan font-size="15" dy="-3"> (°C)</tspan></text>
<text class="ar m" transform="translate(161,1172) scale(1.14,1)"><tspan font-style="italic" font-size="16">T</tspan><tspan font-style="italic" font-size="9.5" dy="3">PV_obs</tspan><tspan font-size="15" dy="-3"> (°C)</tspan></text>
</svg>
</body></html>
